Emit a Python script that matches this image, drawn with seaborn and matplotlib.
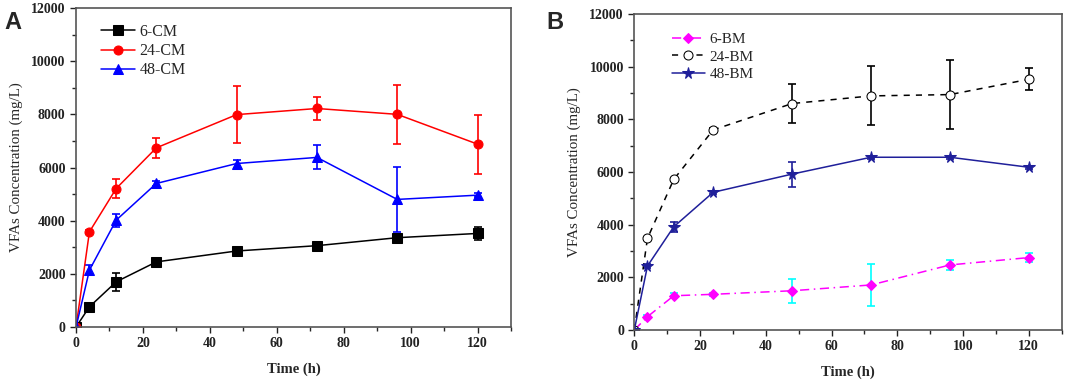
import numpy as np
import pandas as pd
import seaborn as sns
from matplotlib import pyplot as plt
from matplotlib.ticker import MultipleLocator

# Time points (h)
time_h = [0, 4, 12, 24, 48, 72, 96, 120]

# Panel A - CM series (mean, error)
cm6 = [0, 760, 1700, 2450, 2860, 3060, 3360, 3520]
cm6_err = [0, 80, 350, 80, 90, 80, 100, 250]
cm24 = [0, 3580, 5210, 6740, 7990, 8220, 8000, 6880]
cm24_err = [0, 80, 350, 375, 1075, 425, 1110, 1110]
cm48 = [0, 2140, 4020, 5400, 6150, 6380, 4800, 4960]
cm48_err = [0, 200, 250, 80, 150, 450, 1220, 80]

# Panel B - BM series (mean, error)
bm6 = [0, 505, 1300, 1355, 1490, 1710, 2470, 2750]
bm6_err = [0, 60, 100, 60, 455, 810, 200, 180]
bm24 = [0, 3480, 5720, 7600, 8600, 8890, 8940, 9520]
bm24_err = [0, 60, 60, 60, 730, 1120, 1300, 420]
bm48 = [0, 2430, 3920, 5230, 5920, 6560, 6560, 6180]
bm48_err = [0, 60, 200, 60, 475, 60, 60, 60]

sns.set_style("ticks")
plt.rcParams['font.family'] = ['Liberation Serif', 'DejaVu Serif']

fig = plt.figure(figsize=(10.65, 3.85), dpi=100)
ax1 = fig.add_axes([0.0714, 0.1506, 0.4084, 0.8286])
ax2 = fig.add_axes([0.5956, 0.1429, 0.4013, 0.8207])


def draw(ax, y, err, label, color, marker, ls, ecolor, mfc=None, ms=6.5):
    df = pd.DataFrame({"t": time_h, "v": y})
    sns.lineplot(data=df, x="t", y="v", ax=ax, color=color, lw=1.1, ls=ls,
                 marker=marker, markersize=ms, markerfacecolor=mfc if mfc else color,
                 markeredgecolor=color, label=label)
    ax.errorbar(time_h[1:], y[1:], yerr=err[1:], fmt='none', ecolor=ecolor,
                elinewidth=1.2, capsize=3, capthick=1.2, zorder=1)


draw(ax1, cm6, cm6_err, "6-CM", "black", "s", "-", "black")
draw(ax1, cm24, cm24_err, "24-CM", "red", "o", "-", "red")
draw(ax1, cm48, cm48_err, "48-CM", "blue", "^", "-", "blue")

draw(ax2, bm6, bm6_err, "6-BM", "magenta", "D", (0, (6, 3, 1, 3)), "cyan", ms=5.5)
draw(ax2, bm24, bm24_err, "24-BM", "black", "o", (0, (4, 4)), "black", mfc="white", ms=6.5)
draw(ax2, bm48, bm48_err, "48-BM", "#1f1f9a", "*", "-", "#1f1f9a", ms=8.5)

for ax in (ax1, ax2):
    ax.set_xlim(0, 130)
    ax.set_ylim(0, 12000)
    ax.xaxis.set_major_locator(MultipleLocator(20))
    ax.xaxis.set_minor_locator(MultipleLocator(10))
    ax.yaxis.set_major_locator(MultipleLocator(2000))
    ax.yaxis.set_minor_locator(MultipleLocator(1000))
    ax.tick_params(which='major', direction='out', length=4, width=1, labelsize=10, colors='#222222')
    ax.tick_params(which='minor', direction='out', length=3, width=1)
    for s in ax.spines.values():
        s.set_color('#555555')
        s.set_linewidth(1.2)
    ax.set_xlabel("Time (h)", fontsize=10.5, fontweight='bold', labelpad=9)
    ax.set_ylabel("VFAs Concentration (mg/L)", fontsize=10.8, labelpad=6)
    for lab in ax.get_xticklabels() + ax.get_yticklabels():
        lab.set_fontweight('bold')

ax1.legend(loc='upper left', bbox_to_anchor=(0.025, 0.995), frameon=False, fontsize=11.5,
           handlelength=2.1, labelspacing=0.2, handletextpad=0.3)
ax2.legend(loc='upper left', bbox_to_anchor=(0.055, 0.985), frameon=False, fontsize=11,
           handlelength=2.2, labelspacing=0.25, handletextpad=0.3)

fig.text(0.004, 0.925, "A", fontsize=17, fontweight='bold', family='Liberation Sans')
fig.text(0.513, 0.925, "B", fontsize=17, fontweight='bold', family='Liberation Sans')

fig.savefig("out.png", dpi=100)
